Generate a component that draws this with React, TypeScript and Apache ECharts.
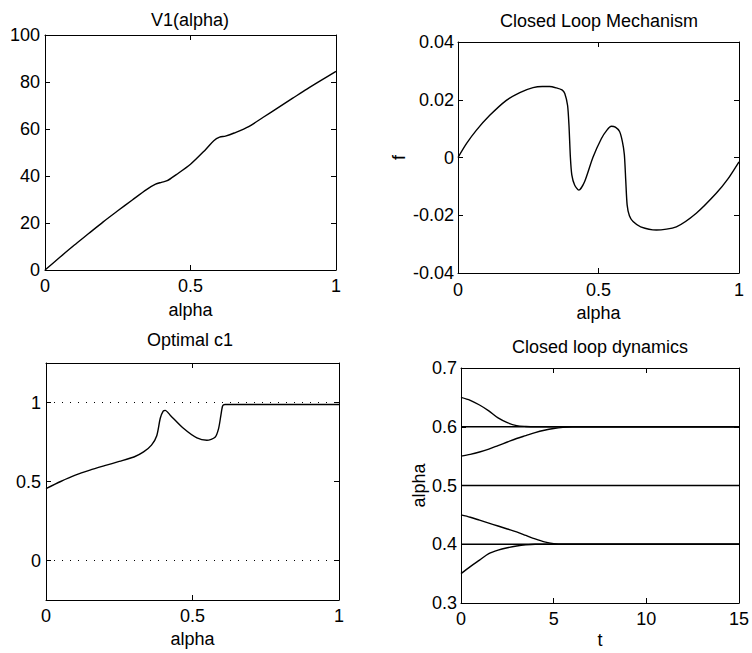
import React, { useEffect, useRef } from "react";
import * as echarts from "echarts";

const FONT = "'Liberation Sans', Arial, Helvetica, sans-serif";

// Panel 1: V1(alpha)
const v1Alpha = [0, 0.05, 0.1, 0.15, 0.2, 0.25, 0.3, 0.35, 0.38, 0.4, 0.42, 0.45, 0.5, 0.55, 0.58, 0.6, 0.62, 0.65, 0.7, 0.75, 0.8, 0.85, 0.9, 0.95, 1];
const v1Values = [0, 5.3, 10.5, 15.5, 20.5, 25.2, 29.8, 34.3, 36.5, 37.3, 38, 40.5, 45, 51, 55, 56.5, 57, 58.3, 61, 65, 69, 73, 77, 80.8, 84.5];

// Panel 2: Closed Loop Mechanism f(alpha)
const fAlpha = [0, 0.03, 0.065, 0.113, 0.172, 0.22, 0.267, 0.3, 0.326, 0.35, 0.37, 0.38, 0.39, 0.395, 0.4, 0.405, 0.415, 0.43, 0.45, 0.48, 0.51, 0.53, 0.546, 0.56, 0.575, 0.585, 0.592, 0.597, 0.602, 0.61, 0.623, 0.65, 0.706, 0.777, 0.848, 0.919, 0.96, 1];
const fValues = [0, 0.0048, 0.0094, 0.0146, 0.0198, 0.0225, 0.0242, 0.0246, 0.0246, 0.0241, 0.0234, 0.0222, 0.018, 0.011, 0.0, -0.006, -0.0095, -0.0113, -0.0085, 0, 0.0065, 0.0095, 0.0108, 0.0105, 0.009, 0.0055, 0.001, -0.008, -0.0165, -0.0202, -0.0222, -0.024, -0.0251, -0.024, -0.0193, -0.0124, -0.0075, -0.0015];

// Panel 3: Optimal c1
const c1Alpha = [0, 0.05, 0.1, 0.15, 0.2, 0.25, 0.3, 0.333, 0.36, 0.378, 0.39, 0.4, 0.407, 0.424, 0.47, 0.515, 0.549, 0.577, 0.589, 0.597, 0.603, 0.611, 1];
const c1Values = [0.455, 0.5, 0.54, 0.572, 0.6, 0.627, 0.655, 0.687, 0.73, 0.79, 0.9, 0.945, 0.95, 0.92, 0.835, 0.776, 0.761, 0.78, 0.835, 0.92, 0.98, 0.987, 0.987];
const c1RefX = [0, 1];
const c1RefOne = [1, 1];
const c1RefZero = [0, 0];

// Panel 4: Closed loop dynamics
const tGrid = [0, 0.5, 1, 1.5, 2, 2.5, 3, 3.5, 4, 4.5, 5, 5.5, 6, 8, 15];
const traj065 = [0.65, 0.645, 0.637, 0.627, 0.615, 0.607, 0.602, 0.6005, 0.6, 0.6, 0.6, 0.6, 0.6, 0.6, 0.6];
const traj060 = [0.6, 0.6, 0.6, 0.6, 0.6, 0.6, 0.6, 0.6, 0.6, 0.6, 0.6, 0.6, 0.6, 0.6, 0.6];
const traj055 = [0.55, 0.553, 0.557, 0.562, 0.568, 0.574, 0.58, 0.585, 0.59, 0.594, 0.597, 0.599, 0.6, 0.6, 0.6];
const traj050 = [0.5, 0.5, 0.5, 0.5, 0.5, 0.5, 0.5, 0.5, 0.5, 0.5, 0.5, 0.5, 0.5, 0.5, 0.5];
const traj045 = [0.45, 0.446, 0.441, 0.436, 0.431, 0.426, 0.421, 0.415, 0.409, 0.404, 0.401, 0.4, 0.4, 0.4, 0.4];
const traj040 = [0.4, 0.4, 0.4, 0.4, 0.4, 0.4, 0.4, 0.4, 0.4, 0.4, 0.4, 0.4, 0.4, 0.4, 0.4];
const traj035 = [0.35, 0.362, 0.373, 0.384, 0.39, 0.394, 0.397, 0.399, 0.4, 0.4, 0.4, 0.4, 0.4, 0.4, 0.4];
const trajectories = [traj065, traj060, traj055, traj050, traj045, traj040, traj035];

const pairs = (xs: number[], ys: number[]) => xs.map((x, i) => [x, ys[i]]);

const txt = { color: "#000", fontFamily: FONT, fontSize: 18 };

function xAxes(gridIndex: number, min: number, max: number, interval: number, name: string, nameGap: number, margin: number) {
  const common = {
    type: "value",
    gridIndex,
    min,
    max,
    interval,
    splitLine: { show: false },
    axisLine: { show: true, onZero: false, lineStyle: { color: "#000", width: 1 } },
    axisTick: { show: true, inside: true, length: 5, lineStyle: { color: "#000", width: 1 } },
  };
  return [
    {
      ...common,
      position: "bottom",
      axisLabel: { ...txt, margin },
      name,
      nameLocation: "middle",
      nameGap,
      nameTextStyle: txt,
    },
    { ...common, position: "top", axisLabel: { show: false } },
  ];
}

function yAxes(gridIndex: number, min: number, max: number, interval: number | undefined, name: string, nameGap: number, margin: number, custom?: number[]) {
  const common: any = {
    type: "value",
    gridIndex,
    min,
    max,
    splitLine: { show: false },
    axisLine: { show: true, onZero: false, lineStyle: { color: "#000", width: 1 } },
    axisTick: { show: true, inside: true, length: 5, lineStyle: { color: "#000", width: 1 } },
  };
  if (interval !== undefined) common.interval = interval;
  if (custom) common.axisTick = { ...common.axisTick, customValues: custom };
  const left: any = {
    ...common,
    position: "left",
    axisLabel: { ...txt, margin, ...(custom ? { customValues: custom } : {}) },
    name,
    nameLocation: "middle",
    nameGap,
    nameTextStyle: txt,
  };
  return [left, { ...common, position: "right", axisLabel: { show: false } }];
}

export default function App() {
  const ref = useRef<HTMLDivElement>(null);
  useEffect(() => {
    const chart = echarts.init(ref.current!, null, { renderer: "svg" });
    const grids = [
      { left: 45, top: 35, width: 291, height: 235 },
      { left: 458, top: 42, width: 281, height: 231 },
      { left: 46, top: 363, width: 293, height: 237 },
      { left: 461, top: 368, width: 279, height: 235 },
    ];
    const xAxis = [
      ...xAxes(0, 0, 1, 0.5, "alpha", 31, 7),
      ...xAxes(1, 0, 1, 0.5, "alpha", 31, 8),
      ...xAxes(2, 0, 1, 0.5, "alpha", 30, 7),
      ...xAxes(3, 0, 15, 5, "t", 28, 7),
    ];
    const yAxis = [
      ...yAxes(0, 0, 100, 20, "", 0, 5),
      ...yAxes(1, -0.04, 0.04, 0.02, "f", 50, 4),
      ...yAxes(2, -0.25, 1.25, undefined, "", 0, 5, [0, 0.5, 1]),
      ...yAxes(3, 0.3, 0.7, 0.1, "alpha", 33, 4),
    ];
    const line = (xi: number, yi: number, data: number[][], extra: any = {}) => ({
      type: "line",
      xAxisIndex: xi,
      yAxisIndex: yi,
      data,
      showSymbol: false,
      symbol: "none",
      smooth: 0.3,
      lineStyle: { color: "#000", width: 1.4 },
      silent: true,
      ...extra,
    });
    const series: any[] = [
      line(0, 0, pairs(v1Alpha, v1Values)),
      line(2, 2, pairs(fAlpha, fValues), { smooth: 0.25 }),
      line(4, 4, pairs(c1RefX, c1RefOne), { smooth: false, lineStyle: { color: "#000", width: 1, type: [1, 7] } }),
      line(4, 4, pairs(c1RefX, c1RefZero), { smooth: false, lineStyle: { color: "#000", width: 1, type: [1, 7] } }),
      line(4, 4, pairs(c1Alpha, c1Values), { smooth: 0.25 }),
      ...trajectories.map((tr) => line(6, 6, pairs(tGrid, tr))),
    ];
    const title = (text: string, x: number, y: number) => ({
      type: "text",
      x,
      y,
      style: { text, fill: "#000", font: `18px ${FONT}`, align: "center", verticalAlign: "middle" },
    });
    chart.setOption({
      animation: false,
      backgroundColor: "#fff",
      grid: grids,
      xAxis,
      yAxis,
      series,
      graphic: [
        title("V1(alpha)", 190, 20),
        title("Closed Loop Mechanism", 599, 21),
        title("Optimal c1", 190, 340),
        title("Closed loop dynamics", 600, 347),
      ],
    });
    return () => chart.dispose();
  }, []);
  return <div ref={ref} style={{ position: "fixed", left: 0, top: 0, width: 752, height: 653, background: "#fff" }} />;
}
